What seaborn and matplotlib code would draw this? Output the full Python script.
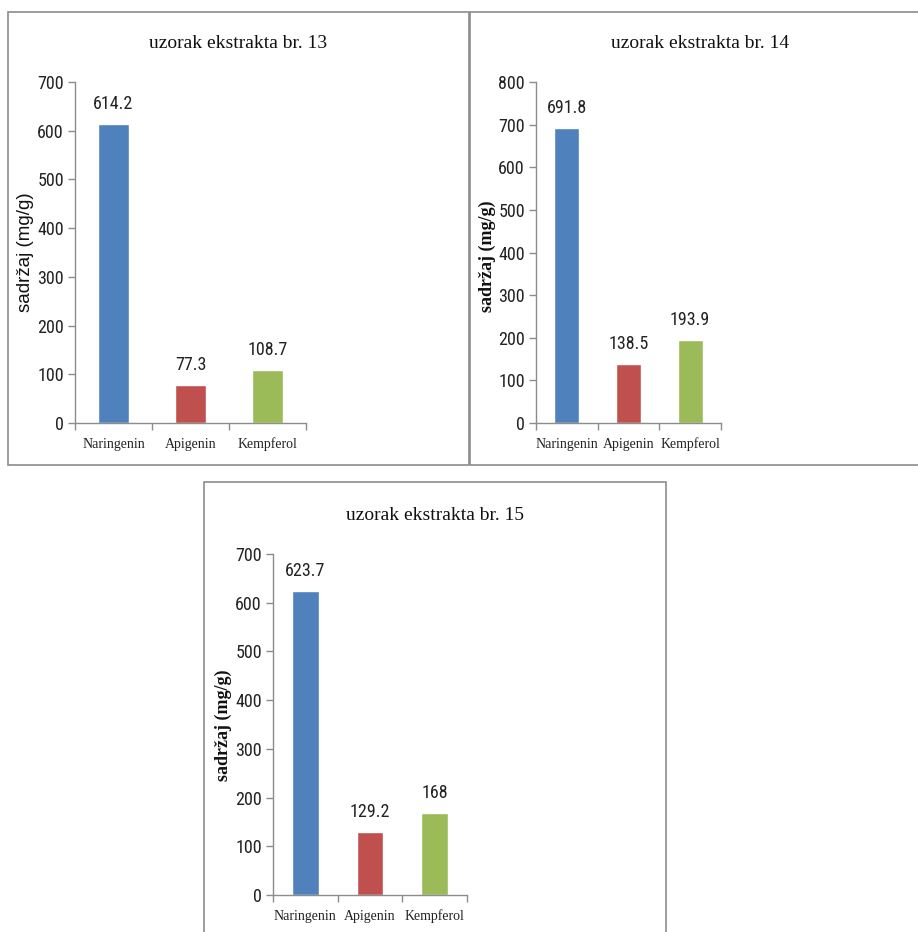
import matplotlib
matplotlib.use("Agg")
import matplotlib.pyplot as plt
from matplotlib import font_manager
from matplotlib.patches import Rectangle
from matplotlib.ticker import FixedLocator
import pandas as pd
import seaborn as sns

# data
compounds = ["Naringenin", "Apigenin", "Kempferol"]
titles = ["uzorak ekstrakta br. 13", "uzorak ekstrakta br. 14", "uzorak ekstrakta br. 15"]
sample_13 = [614.2, 77.3, 108.7]
sample_14 = [691.8, 138.5, 193.9]
sample_15 = [623.7, 129.2, 168]
y_max = [700, 800, 700]
ylabel = "sadržaj (mg/g)"
colors = ["#4F81BD", "#C0504D", "#9BBB59"]

W, H = 918, 932


def pick_font(*names):
    have = {f.name for f in font_manager.fontManager.ttflist}
    for n in names:
        if n in have:
            return n
    return "DejaVu Sans"


narrow = pick_font("Liberation Sans Narrow", "Roboto Condensed", "Liberation Sans")
serif = pick_font("Liberation Serif", "DejaVu Serif")
sans = pick_font("Liberation Sans", "DejaVu Sans")

sns.set_style("white")
plt.rcParams["font.family"] = [narrow, "DejaVu Sans"]

fig = plt.figure(figsize=(W / 100, H / 100), dpi=100)
fig.patch.set_facecolor("white")


def fx(px):
    return px / W


def fy(py):
    return 1 - py / H


# panel frames (pixel boxes: left, top, right, bottom)
frames = [(8, 12, 469, 465), (470, 12, 925, 465), (204, 482, 666, 940)]
for l, t, r, b in frames:
    fig.add_artist(Rectangle((fx(l), fy(b)), fx(r) - fx(l), fy(t) - fy(b),
                             transform=fig.transFigure, fill=False,
                             edgecolor="#8c8c8c", linewidth=1.2))

# axes boxes in pixels: left, top(ymax), right, bottom(0)
boxes = [(75, 82, 306, 423), (536, 82, 721, 423), (273, 554, 467, 895)]
title_pos = [(238, 43), (700, 43), (435, 515)]
ylabel_pos = [(25, 252), (487, 256), (223, 725)]
ylabel_font = [(sans, "normal", 13.5), (serif, "bold", 13), (serif, "bold", 13)]

series = [sample_13, sample_14, sample_15]

for i, vals in enumerate(series):
    l, t, r, b = boxes[i]
    ax = fig.add_axes([fx(l), fy(b), fx(r) - fx(l), fy(t) - fy(b)])
    df = pd.DataFrame({"compound": compounds, "value": vals})
    sns.barplot(data=df, x="compound", y="value", hue="compound",
                palette=colors, width=0.41, legend=False, ax=ax,
                saturation=1)
    ax.set_xlim(-0.5, 2.5)
    ax.set_ylim(0, y_max[i])
    ax.set_yticks(range(0, y_max[i] + 1, 100))
    ax.set_xlabel("")
    ax.set_ylabel("")
    for s in ["top", "right"]:
        ax.spines[s].set_visible(False)
    for s in ["left", "bottom"]:
        ax.spines[s].set_color("#8c8c8c")
        ax.spines[s].set_linewidth(1.0)
    ax.tick_params(axis="y", which="major", left=True, length=5, width=1,
                   color="#8c8c8c", labelsize=13, pad=3, labelcolor="#222222")
    ax.tick_params(axis="x", which="major", bottom=False, length=0,
                   labelsize=10, pad=10.5, labelcolor="#222222")
    ax.xaxis.set_minor_locator(FixedLocator([-0.5, 0.5, 1.5, 2.5]))
    ax.tick_params(axis="x", which="minor", bottom=True, length=5, width=1,
                   color="#8c8c8c")
    for lab in ax.get_xticklabels():
        lab.set_fontfamily(serif)
    ax.grid(False)

    for c in ax.containers:
        ax.bar_label(c, labels=[f"{v:g}" for v in c.datavalues], padding=8,
                     fontsize=13, color="#222222")

    tx, ty = title_pos[i]
    fig.text(fx(tx), fy(ty), titles[i], ha="center", va="center",
             fontsize=14, family=serif, color="#111111")
    lx, ly = ylabel_pos[i]
    fam, wt, fs = ylabel_font[i]
    fig.text(fx(lx), fy(ly), ylabel, ha="center", va="center", rotation=90,
             fontsize=fs, family=fam, fontweight=wt, color="#111111")

fig.savefig("out.png", dpi=100, facecolor="white")
